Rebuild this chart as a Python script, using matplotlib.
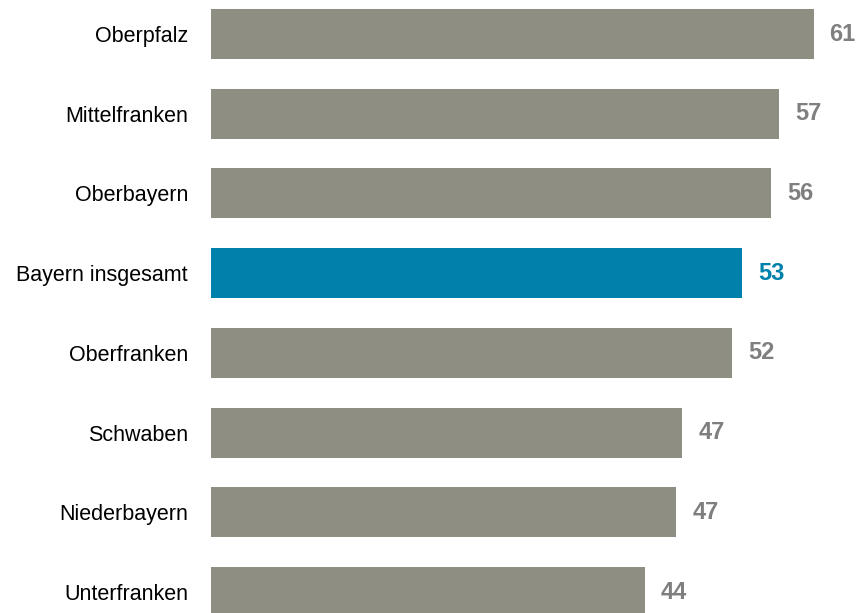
import matplotlib
matplotlib.use("Agg")
import matplotlib.pyplot as plt

regions = ["Oberpfalz", "Mittelfranken", "Oberbayern", "Bayern insgesamt",
           "Oberfranken", "Schwaben", "Niederbayern", "Unterfranken"]
# bar lengths (unrounded), labels are rounded
values = [60.6, 57.1, 56.3, 53.4, 52.4, 47.4, 46.8, 43.6]
labels = ["61", "57", "56", "53", "52", "47", "47", "44"]
highlight = "Bayern insgesamt"

GREY = "#8F8E83"
BLUE = "#0081AB"
LABEL_GREY = "#7F7F7F"

fig = plt.figure(figsize=(8.58, 6.13), dpi=100)
ax = fig.add_axes([211 / 858, 0, 647 / 858, 1])

y = list(range(len(regions)))
colors = [BLUE if r == highlight else GREY for r in regions]
ax.barh(y, values, height=0.627, color=colors)

for yi, v, lab, r in zip(y, values, labels, regions):
    ax.text(v + 1.6, yi, lab, va="center", ha="left",
            fontsize=17, fontweight="bold",
            family=["Liberation Sans Narrow", "Liberation Sans"],
            color=BLUE if r == highlight else LABEL_GREY)

ax.set_xlim(0, 65.06)
ax.set_ylim(7.263, -0.4266)
ax.set_yticks(y)
ax.set_yticklabels(regions, fontsize=15.5, family="Liberation Sans")
ax.tick_params(axis="y", length=0, pad=16.5)
ax.set_xticks([])
for s in ax.spines.values():
    s.set_visible(False)

fig.savefig("out.png", dpi=100)
